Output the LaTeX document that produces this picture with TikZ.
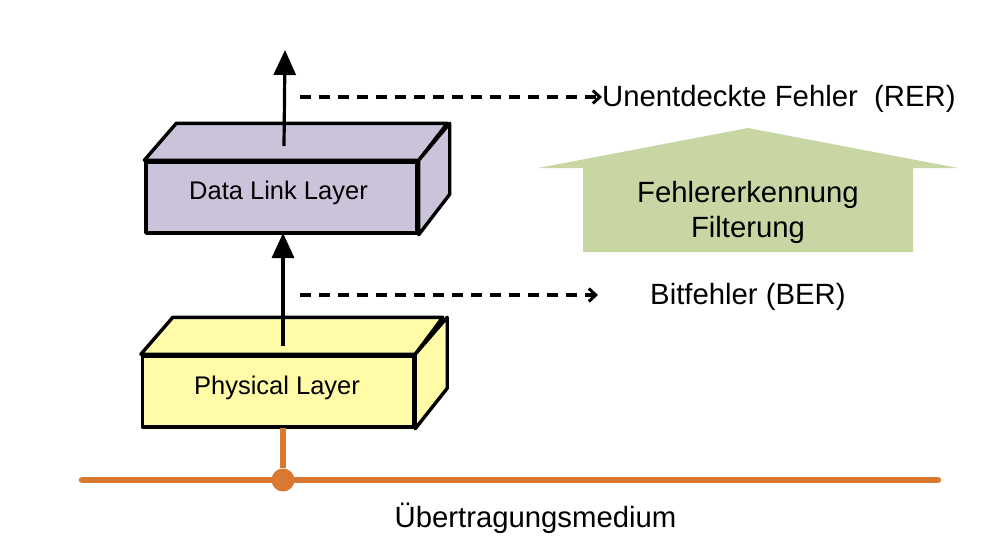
\documentclass[tikz,border=0pt]{standalone}
\usepackage{fontspec}
\setmainfont{Liberation Sans}
\usetikzlibrary{arrows.meta,calc}
\definecolor{dlfill}{HTML}{CAC3DA}
\definecolor{phfill}{HTML}{FFFBA6}
\definecolor{grfill}{HTML}{C8D6A4}
\definecolor{busor}{HTML}{D9782F}
\tikzset{
  layerbox/.style={draw=black, line width=3.4pt, line join=round, minimum width=271pt, minimum height=71pt, inner sep=0pt},
  face/.style={draw=black, line width=3.4pt, line join=round},
  layertext/.style={font=\fontsize{25.5}{30}\selectfont, inner sep=0pt},
  uparrow/.style={line width=3.2pt, -{Triangle[length=25pt,width=22pt]}},
  dasharrow/.style={line width=3.2pt, dash pattern=on 11pt off 8pt, -{Straight Barb[length=7pt,width=13pt,line width=3pt]}},
  bigtext/.style={font=\fontsize{29.3}{35}\selectfont, inner sep=0pt},
  bus/.style={draw=busor, line width=6.5pt, line cap=round},
}
\begin{document}
\begin{tikzpicture}[x=1pt,y=-1pt]
\useasboundingbox (0,0) rectangle (992,554);
% Data Link Layer box
\node[layerbox, fill=dlfill] (dl) at (281.5,197.5) {};
\node[layertext] (dltext) at (278.5,193) {Data Link Layer};
\draw[face, fill=dlfill] (dl.north west) -- ++(32,-37) -- ++(271,0) -- (dl.north east) -- cycle;
\draw[face, fill=dlfill] (dl.north east) -- ++(31,-37) -- ++(0,71) -- (dl.south east) -- cycle;
% Physical Layer box
\node[layerbox, fill=phfill] (ph) at (278,391.5) {};
\node[layertext] (phtext) at (277,388) {Physical Layer};
\draw[face, fill=phfill] (ph.north west) -- ++(32,-37) -- ++(270,0) -- (ph.north east) -- cycle;
\draw[face, fill=phfill] (ph.north east) -- ++(32,-37) -- ++(0,71) -- (ph.south east) -- cycle;
% vertical arrows
\coordinate (phtop) at (283,346);
\coordinate (dlin) at (283,233);
\coordinate (dltop) at (284,146);
\coordinate (up) at (285,50);
\draw[uparrow] (phtop) -- (dlin);
\draw[uparrow] (dltop) -- (up);
% dashed arrows and labels
\node[bigtext, anchor=west] (rer) at (602,99) {Unentdeckte Fehler\ \ (RER)};
\coordinate (d1s) at (300,97);
\draw[dasharrow] (d1s) -- (d1s -| rer.west);
\coordinate (d2s) at (300,295);
\coordinate (d2e) at (598,295);
\draw[dasharrow] (d2s) -- (d2e);
\node[bigtext, anchor=west] (ber) at (650,297) {Bitfehler (BER)};
% green block arrow
\fill[grfill] (583,252) -- (583,168) -- (538,168) -- (748,128) -- (958,168) -- (913,168) -- (913,252) -- cycle;
\node[bigtext, align=center] (filt) at (748,212) {Fehlererkennung\\Filterung};
% transmission medium
\coordinate (busL) at (82,480);
\coordinate (busR) at (938,480);
\coordinate (phbot) at (283,428);
\draw[bus] (busL) -- (busR);
\node[circle, fill=busor, minimum size=23pt, inner sep=0pt] (j) at (283,480) {};
\draw[draw=busor, line width=6.5pt] (phbot) -- (j);
\node[bigtext] (med) at (535.5,518) {Übertragungsmedium};
\end{tikzpicture}
\end{document}
